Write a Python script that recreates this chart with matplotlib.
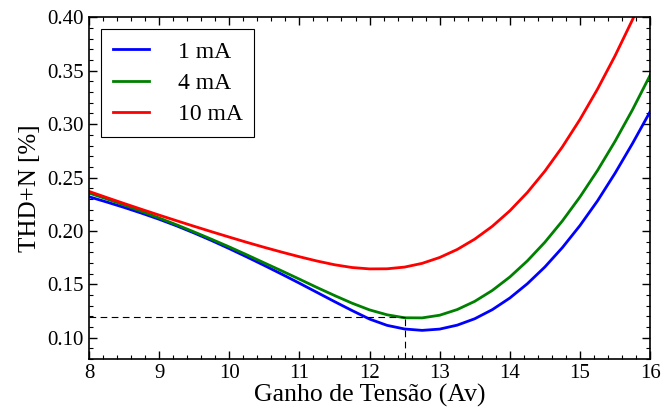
import numpy as np
import matplotlib
matplotlib.use("Agg")
import matplotlib.pyplot as plt
from matplotlib.ticker import MultipleLocator, FormatStrFormatter

plt.rcParams['font.family'] = ['Liberation Serif', 'DejaVu Serif']

# Ganho de tensão (Av), passo de 0.25
ganho = [8.0, 8.25, 8.5, 8.75, 9.0, 9.25, 9.5, 9.75, 10.0, 10.25, 10.5, 10.75,
         11.0, 11.25, 11.5, 11.75, 12.0, 12.25, 12.5, 12.75, 13.0, 13.25, 13.5,
         13.75, 14.0, 14.25, 14.5, 14.75, 15.0, 15.25, 15.5, 15.75, 16.0]

# THD+N [%]
thd_1mA = [0.2320, 0.2271, 0.2220, 0.2166, 0.2109, 0.2047, 0.1980, 0.1909, 0.1834,
           0.1756, 0.1676, 0.1594, 0.1510, 0.1424, 0.1338, 0.1254, 0.1174, 0.1115,
           0.1081, 0.1068, 0.1080, 0.1117, 0.1177, 0.1262, 0.1371, 0.1505, 0.1662,
           0.1844, 0.2050, 0.2281, 0.2540, 0.2820, 0.3117]
thd_4mA = [0.2355, 0.2300, 0.2243, 0.2183, 0.2121, 0.2057, 0.1990, 0.1921, 0.1850,
           0.1776, 0.1700, 0.1625, 0.1548, 0.1470, 0.1395, 0.1323, 0.1260, 0.1214,
           0.1186, 0.1185, 0.1210, 0.1263, 0.1340, 0.1442, 0.1568, 0.1719, 0.1894,
           0.2094, 0.2318, 0.2566, 0.2839, 0.3136, 0.3458]
thd_10mA = [0.2370, 0.2313, 0.2257, 0.2202, 0.2148, 0.2095, 0.2043, 0.1992, 0.1942,
            0.1893, 0.1846, 0.1801, 0.1758, 0.1718, 0.1683, 0.1657, 0.1644, 0.1645,
            0.1661, 0.1696, 0.1751, 0.1826, 0.1923, 0.2043, 0.2188, 0.2360, 0.2560,
            0.2788, 0.3044, 0.3328, 0.3640, 0.3980, 0.4348]

series = [(thd_1mA, '1 mA', '#0000ff'),
          (thd_4mA, '4 mA', '#008000'),
          (thd_10mA, '10 mA', '#ff0000')]

# ponto marcado (tracejado)
av_ref = 12.5
thd_ref = 0.119

fig = plt.figure(figsize=(6.72, 4.13), dpi=100)
ax = fig.add_axes([0.1324, 0.1308, 0.835, 0.827])

for y, lbl, c in series:
    ax.plot(ganho, y, color=c, lw=2, label=lbl)

ax.plot([8, av_ref], [thd_ref, thd_ref], color='black', lw=0.8, dashes=(6, 4))
ax.plot([av_ref, av_ref], [0.08, thd_ref], color='black', lw=0.8, dashes=(6, 4))

ax.set_xlim(8, 16)
ax.set_ylim(0.08, 0.40)
ax.xaxis.set_major_locator(MultipleLocator(1))
ax.xaxis.set_minor_locator(MultipleLocator(0.2))
ax.yaxis.set_major_locator(MultipleLocator(0.05))
ax.yaxis.set_minor_locator(MultipleLocator(0.01))
ax.yaxis.set_major_formatter(FormatStrFormatter('%.2f'))
ax.tick_params(which='both', direction='in', top=True, right=True, labelsize=15)
ax.tick_params(which='major', length=6, width=1)
ax.tick_params(which='minor', length=3, width=0.8)
for s in ax.spines.values():
    s.set_linewidth(1.2)

ax.set_xlabel('Ganho de Tensão (Av)', fontsize=18.5, labelpad=1)
ax.set_ylabel('THD+N [%]', fontsize=18, labelpad=5)

leg = ax.legend(loc='upper left', fontsize=17, fancybox=False, edgecolor='black',
                framealpha=1, handlelength=1.55, handletextpad=1.2,
                borderaxespad=0.5, borderpad=0.5, labelspacing=0.42)
leg.get_frame().set_linewidth(0.8)

fig.savefig('out.png', dpi=100)
